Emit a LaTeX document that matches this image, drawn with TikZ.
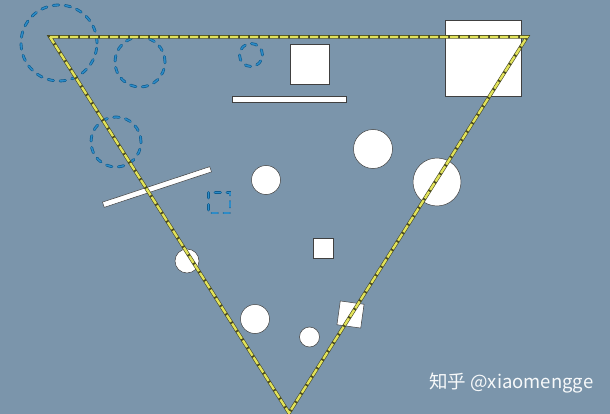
\documentclass[tikz,border=0pt]{standalone}
\usepackage{fontspec}
\newfontfamily\cjk{Noto Sans CJK SC}
\usetikzlibrary{calc}
\definecolor{slate}{HTML}{7B95AB}
\definecolor{ringdark}{HTML}{0E5C8E}
\definecolor{ringlight}{HTML}{2E8CC8}
\definecolor{trioutline}{HTML}{4A4A20}
\definecolor{triyellow}{HTML}{E2E35A}
\tikzset{
  ring/.style = {draw=ringdark, double=ringlight, double distance=1.4pt, line width=0.7pt, line cap=round, dash pattern=on 5.5pt off 6.5pt},
  whiteshape/.style = {draw=black!75, fill=white, line width=0.5pt},
  tri/.style = {draw=triyellow, line width=2.3pt, dash pattern=on 8pt off 2pt,
    preaction={draw=trioutline, line width=3.5pt, solid}}
}

\begin{document}
\begin{tikzpicture}[x=1pt, y=-1pt]
\fill [slate] (0,0) rectangle (610,414);
\useasboundingbox (0,0) rectangle (610,414);
% dashed rings
\draw [ring] (59,43) circle [radius=38pt];
\draw [ring] (140,62) circle [radius=25pt];
\draw [ring] (116,142) circle [radius=25pt];
\draw [ring] (251,55) circle [radius=11.5pt];
\draw [ring] (208.5,192.5) rectangle (230,213);
% white shapes
\draw [whiteshape] (290,44) rectangle (329,84);
\draw [whiteshape] (445,20) rectangle (521,96);
\draw [whiteshape] (232,96) rectangle (346,102);
\draw [whiteshape] (313,238) rectangle (333,258);
\node [whiteshape, rotate=18.3, minimum width=113pt, minimum height=5.5pt, inner sep=0pt] (bar) at (157,187) {};
\node [whiteshape, rotate=-8, minimum size=24pt, inner sep=0pt] (tile) at (350.5,314.5) {};
\draw [whiteshape] (266,180) circle [radius=14.5pt];
\draw [whiteshape] (373,149) circle [radius=19.5pt];
\draw [whiteshape] (437,182) circle [radius=24pt];
\draw [whiteshape] (187,261) circle [radius=12pt];
\draw [whiteshape] (255,319) circle [radius=14.5pt];
\draw [whiteshape] (309.5,337) circle [radius=10pt];
% triangle
\coordinate (A) at (50,37);
\coordinate (B) at (527,37);
\coordinate (C) at (289,413);
\draw [tri, line join=miter] (A) -- (B) -- (C) -- cycle;
% mark
\node [text=white!94!slate, anchor=west, font=\cjk\fontsize{18.5}{19}\selectfont, inner sep=0pt] (mark) at (429,383) {知乎 @xiaomengge};
\end{tikzpicture}
\end{document}
